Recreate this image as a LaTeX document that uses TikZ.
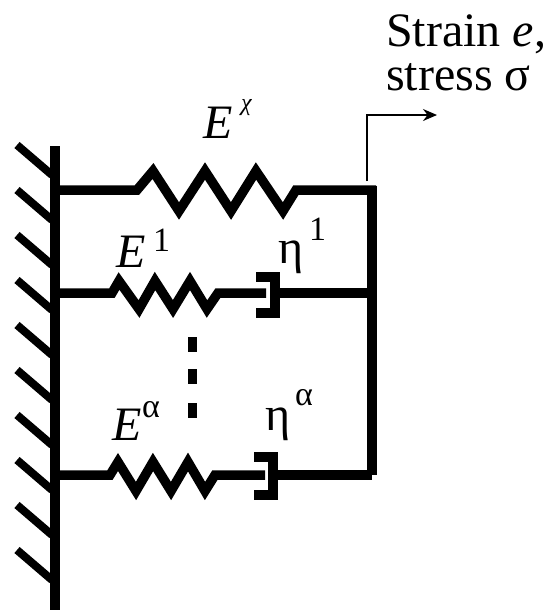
\documentclass[tikz,border=0pt]{standalone}
\usepackage{fontspec}
\setmainfont{Liberation Serif}
\usetikzlibrary{positioning, arrows.meta}
\tikzset{
  bar/.style={line width=10pt, line join=miter}, % thick frame lines
  hatch/.style={line width=8pt}, % the strokes along the wall
  link/.style={line width=9.5pt, line join=miter}, % springs and branches
  lab/.style={inner sep=0pt, anchor=base west, font=\fontsize{48}{52}\selectfont},
  suplab/.style={inner sep=0pt, anchor=base west, font=\fontsize{34}{36}\selectfont},
}

\begin{document}
\begin{tikzpicture}[x=1pt, y=-1pt]
    \useasboundingbox (0,0) rectangle (553,611);

    % wall
    \coordinate (wall_t) at (55,146);
    \coordinate (wall_b) at (55,610);
    \draw[bar] (wall_t) -- (wall_b);
    \foreach \y in {145,190,...,550} {
        \draw[hatch] (17,\y) -- (52,\y+30);
    }

    % frame on the right
    \coordinate (top_l) at (55,190);
    \coordinate (top_r) at (376,190);
    \coordinate (mid_l) at (55,293);
    \coordinate (mid_r) at (372,293);
    \coordinate (low_l) at (55,475);
    \coordinate (low_r) at (372,475);
    \draw[bar] (372,186) -- (low_r);

    % long spring
    \draw[link] (top_l) -- (137,190) -- (153,171) -- (179,211) -- (205,171)
        -- (231,211) -- (256,171) -- (283,211) -- (296,190) -- (top_r);

    % first branch
    \coordinate (dash1) at (276,293);
    \draw[link] (mid_l) -- (112,293) -- (119,281) -- (139,309) -- (155,281)
        -- (173,309) -- (190,281) -- (207,309) -- (218,293) -- (266,293);
    \draw[link] (dash1) -- (mid_r);
    \draw[link] (256,277) -- (275,277) -- (275,313) -- (256,313);

    % last branch
    \coordinate (dash2) at (273,475);
    \draw[link] (low_l) -- (110,475) -- (118,462) -- (136,491) -- (153,462)
        -- (171,491) -- (188,462) -- (205,491) -- (215,475) -- (265,475);
    \draw[link] (dash2) -- (low_r);
    \draw[link] (254,457) -- (273,457) -- (273,495) -- (254,495);

    % dots between the branches
    \foreach \y in {337,369,403} {
        \draw[line width=9pt] (192,\y) -- (192,\y+15);
    }

    % output arrow
    \coordinate (out_a) at (367,181);
    \coordinate (out_b) at (437,115);
    \draw[-{Stealth[length=14pt,width=12pt]}, line width=1.5pt] (out_a) |- (out_b);

    % labels
    \node[lab] (strain) at (386,46) {Strain \textit{e},};
    \node[lab] (stress) at (386,90) {stress σ};
    \node[lab] (e_inf) at (203,138) {\textit{E}};
    \node[suplab, font=\fontsize{24}{26}\selectfont] (e_inf_s) at (241,110) {\textit{χ}};
    \node[lab] (e_one) at (116,267) {\textit{E}};
    \node[suplab] (e_one_s) at (153,251) {1};
    \node[lab] (eta_one) at (278,263) {η};
    \node[suplab] (eta_one_s) at (309,240) {1};
    \node[lab] (e_alpha) at (112,440) {\textit{E}};
    \node[suplab] (e_alpha_s) at (142,417) {α};
    \node[lab] (eta_alpha) at (265,430) {η};
    \node[suplab] (eta_alpha_s) at (295,405) {α};
\end{tikzpicture}
\end{document}
